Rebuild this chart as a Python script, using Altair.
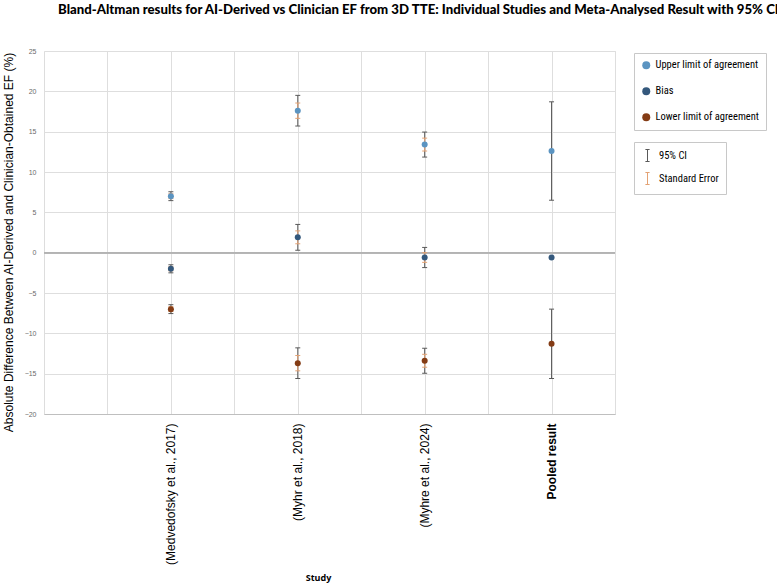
import altair as alt
import pandas as pd

# Studies along the x axis (positions 1..4 on a 0..4.5 scale)
studies = ["(Medvedofsky et al., 2017)", "(Myhr et al., 2018)", "(Myhre et al., 2024)", "Pooled result"]
positions = [1, 2, 3, 4]

measures = ["Upper limit of agreement", "Bias", "Lower limit of agreement"]

# Point estimates (% EF difference)
upper = [7.0, 17.6, 13.4, 12.6]
bias = [-2.0, 1.9, -0.6, -0.6]
lower = [-7.0, -13.7, -13.4, -11.3]

# 95% CI half-widths
upper_ci = [0.55, 1.9, 1.55, 6.1]
bias_ci = [0.5, 1.6, 1.25, None]
lower_ci = [0.55, 1.9, 1.55, 4.3]

# Standard error half-widths
upper_se = [0.3, 0.95, 0.8, None]
bias_se = [0.25, 0.8, 0.6, None]
lower_se = [0.3, 0.95, 0.8, None]

colors = ["#5B94C1", "#34587C", "#843C15"]
err_kinds = ["95% CI", "Standard Error"]
err_colors = ["#595959", "#E3A274"]

points, errors, caps = [], [], []
for m, vals, cis, ses in zip(measures, [upper, bias, lower], [upper_ci, bias_ci, lower_ci], [upper_se, bias_se, lower_se]):
    for x, v, c, s in zip(positions, vals, cis, ses):
        points.append({"x": x, "measure": m, "value": v})
        for kind, half in zip(err_kinds, [c, s]):
            if half is None:
                continue
            errors.append({"x": x, "kind": kind, "lo": v - half, "hi": v + half})
            caps.append({"x": x, "kind": kind, "y": v - half})
            caps.append({"x": x, "kind": kind, "y": v + half})

points_df = pd.DataFrame(points)
errors_df = pd.DataFrame(errors)
caps_df = pd.DataFrame(caps)

label_expr = " : ".join(
    [f"datum.value == {p} ? '{s}'" for p, s in zip(positions, studies)]
) + " : ''"

legend_font = "Liberation Sans Narrow, Roboto Condensed, Roboto"

x_axis = alt.Axis(
    values=[0.5, 1, 1.5, 2, 2.5, 3, 3.5, 4, 4.5],
    labelExpr=label_expr,
    labelAngle=270,
    labelFontSize=12,
    labelFont="Liberation Sans",
    labelColor="#000000",
    labelPadding=9,
    labelFontWeight={"condition": {"test": "datum.value == 4", "value": "bold"}, "value": "normal"},
    ticks=False,
    domain=True,
    domainColor="#bfbfbf",
    grid=True,
    gridColor="#dedede",
    title="Study",
    titleFont="Open Sans",
    titleFontSize=9,
    titleFontWeight="bold",
    titleX=274,
    titleY=163,
    titleBaseline="middle",
    titleAlign="center",
)

y_axis = alt.Axis(
    values=list(range(-20, 30, 5)),
    labelFontSize=7,
    labelColor="#6b6b6b",
    labelFont="Liberation Sans",
    labelPadding=8,
    ticks=False,
    domain=False,
    grid=True,
    gridColor="#dedede",
    title="Absolute Difference Between AI-Derived and Clinician-Obtained EF (%)",
    titleFont="Liberation Sans",
    titleFontSize=12,
    titleFontWeight="normal",
    titleAngle=270,
    titleX=-36,
    titleY=191,
    titleAlign="center",
    titleBaseline="middle",
)

x_enc = alt.X("x:Q", scale=alt.Scale(domain=[0, 4.5], nice=False, zero=False), axis=x_axis)
y_scale = alt.Scale(domain=[-20, 25], nice=False)

err_stroke = alt.Stroke(
    "kind:N",
    scale=alt.Scale(domain=err_kinds, range=err_colors),
    legend=alt.Legend(
        title=None,
        orient="none",
        legendX=590,
        legendY=91,
        direction="vertical",
        symbolType="M-0.35,-1H0.35M0,-1V1M-0.35,1H0.35",
        symbolSize=144,
        symbolStrokeWidth=1,
        labelFont=legend_font,
        labelFontSize=10.5,
        labelColor="#000000",
        labelExpr="datum.label + '\u00a0\u00a0\u00a0\u00a0\u00a0\u00a0\u00a0'",
        rowPadding=6,
        padding=7,
        strokeColor="#c8c8c8",
        fillColor="#ffffff",
        labelOffset=5,
    ),
)

zero_line = alt.Chart(points_df).mark_rule(color="#b3b3b3", strokeWidth=1).encode(
    y=alt.datum(0, scale=y_scale)
)

err_rules = alt.Chart(errors_df).mark_rule(strokeWidth=1).encode(
    x=x_enc,
    y=alt.Y("lo:Q", scale=y_scale, axis=y_axis),
    y2="hi:Q",
    stroke=err_stroke,
)

err_caps = alt.Chart(caps_df).mark_point(
    shape="M-1,0L1,0", size=25, filled=False, strokeWidth=1, opacity=1
).encode(
    x=x_enc,
    y=alt.Y("y:Q", scale=y_scale, axis=y_axis),
    stroke=err_stroke,
)

dots = alt.Chart(points_df).mark_point(filled=True, shape="circle", size=36, opacity=1).encode(
    x=x_enc,
    y=alt.Y("value:Q", scale=y_scale, axis=y_axis),
    fill=alt.Fill(
        "measure:N",
        scale=alt.Scale(domain=measures, range=colors),
        legend=alt.Legend(
            title=None,
            orient="none",
            legendX=590,
            legendY=2,
            direction="vertical",
            symbolType="circle",
            symbolSize=64,
            labelFont=legend_font,
            labelFontSize=10.5,
            labelColor="#000000",
            rowPadding=15,
            padding=7,
            strokeColor="#c8c8c8",
            fillColor="#ffffff",
            labelOffset=4,
        ),
    ),
)

chart = (
    alt.layer(zero_line, err_rules, err_caps, dots)
    .properties(
        width=571,
        height=363,
        autosize=alt.AutoSizeParams(type="none"),
        padding={"left": 44, "top": 51, "right": 162, "bottom": 169},
        title=alt.TitleParams(
            "Bland-Altman results for AI-Derived vs Clinician EF from 3D TTE: Individual Studies and Meta-Analysed Result with 95% CI",
            anchor="start",
            frame="group",
            dx=14,
            offset=30,
            font="Lato",
            fontSize=13.2,
            fontWeight=900,
            color="#000000",
        ),
    )
    .configure_view(stroke="#d9d9d9")
    .configure(background="#ffffff")
)

chart.save("out.html", embed_options={"renderer": "svg", "actions": False})
